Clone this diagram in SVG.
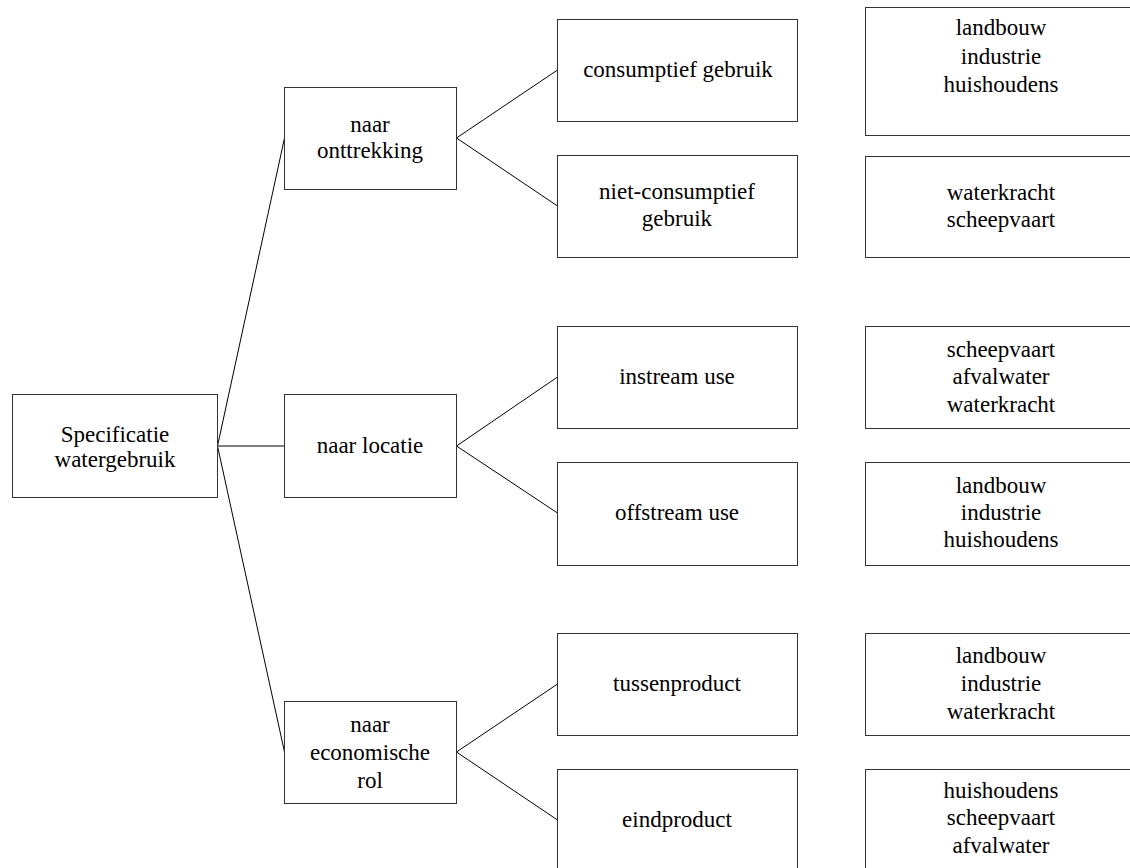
<svg xmlns="http://www.w3.org/2000/svg" width="1130" height="868" viewBox="0 0 1130 868">
<style>
rect{fill:#fff;stroke:#333;stroke-width:1}
text{font-family:"Liberation Serif","Times New Roman",serif;font-size:23px;fill:#000;text-anchor:middle}
.c line{stroke:#000;stroke-width:1}
</style>
<rect x="0" y="0" width="1130" height="868" style="stroke:none"/>
<g class="c" id="connectors">
<line x1="217.5" y1="446" x2="284.5" y2="138"/>
<line x1="217.5" y1="446" x2="284.5" y2="446"/>
<line x1="217.5" y1="446" x2="284.5" y2="752"/>
<line x1="456.5" y1="138" x2="557.5" y2="70"/>
<line x1="456.5" y1="138" x2="557.5" y2="206"/>
<line x1="456.5" y1="446" x2="557.5" y2="377"/>
<line x1="456.5" y1="446" x2="557.5" y2="513"/>
<line x1="456.5" y1="752" x2="557.5" y2="684"/>
<line x1="456.5" y1="752" x2="557.5" y2="820"/>
</g>
<g id="root"><rect x="12.5" y="394.5" width="205" height="103"/><text x="115" y="442">Specificatie</text><text x="115" y="467">watergebruik</text></g>
<g id="onttrekking"><rect x="284.5" y="87.5" width="172" height="102"/><text x="370" y="132">naar</text><text x="370" y="158">onttrekking</text></g>
<g id="locatie"><rect x="284.5" y="394.5" width="172" height="103"/><text x="370" y="453">naar locatie</text></g>
<g id="economisch"><rect x="284.5" y="701.5" width="172" height="102"/><text x="370" y="732">naar</text><text x="370" y="760">economische</text><text x="370" y="788">rol</text></g>
<g id="consumptief"><rect x="557.5" y="19.5" width="240" height="102"/><text x="678" y="77">consumptief gebruik</text></g>
<g id="nietconsumptief"><rect x="557.5" y="155.5" width="240" height="102"/><text x="677" y="199">niet-consumptief</text><text x="677" y="226">gebruik</text></g>
<g id="instream"><rect x="557.5" y="326.5" width="240" height="102"/><text x="677" y="384">instream use</text></g>
<g id="offstream"><rect x="557.5" y="462.5" width="240" height="103"/><text x="677" y="520">offstream use</text></g>
<g id="tussenproduct"><rect x="557.5" y="633.5" width="240" height="102"/><text x="677" y="691">tussenproduct</text></g>
<g id="eindproduct"><rect x="557.5" y="769.5" width="240" height="102"/><text x="677" y="827">eindproduct</text></g>
<g id="r1"><rect x="865.5" y="7.5" width="272" height="128"/><text x="1001" y="35">landbouw</text><text x="1001" y="64">industrie</text><text x="1001" y="92">huishoudens</text></g>
<g id="r2"><rect x="865.5" y="156.5" width="272" height="101"/><text x="1001" y="200">waterkracht</text><text x="1001" y="227">scheepvaart</text></g>
<g id="r3"><rect x="865.5" y="326.5" width="272" height="102"/><text x="1001" y="357">scheepvaart</text><text x="1001" y="384">afvalwater</text><text x="1001" y="412">waterkracht</text></g>
<g id="r4"><rect x="865.5" y="462.5" width="272" height="103"/><text x="1001" y="493">landbouw</text><text x="1001" y="520">industrie</text><text x="1001" y="547">huishoudens</text></g>
<g id="r5"><rect x="865.5" y="633.5" width="272" height="102"/><text x="1001" y="663">landbouw</text><text x="1001" y="691">industrie</text><text x="1001" y="719">waterkracht</text></g>
<g id="r6"><rect x="865.5" y="769.5" width="272" height="102"/><text x="1001" y="798">huishoudens</text><text x="1001" y="825">scheepvaart</text><text x="1001" y="853">afvalwater</text></g>
</svg>
